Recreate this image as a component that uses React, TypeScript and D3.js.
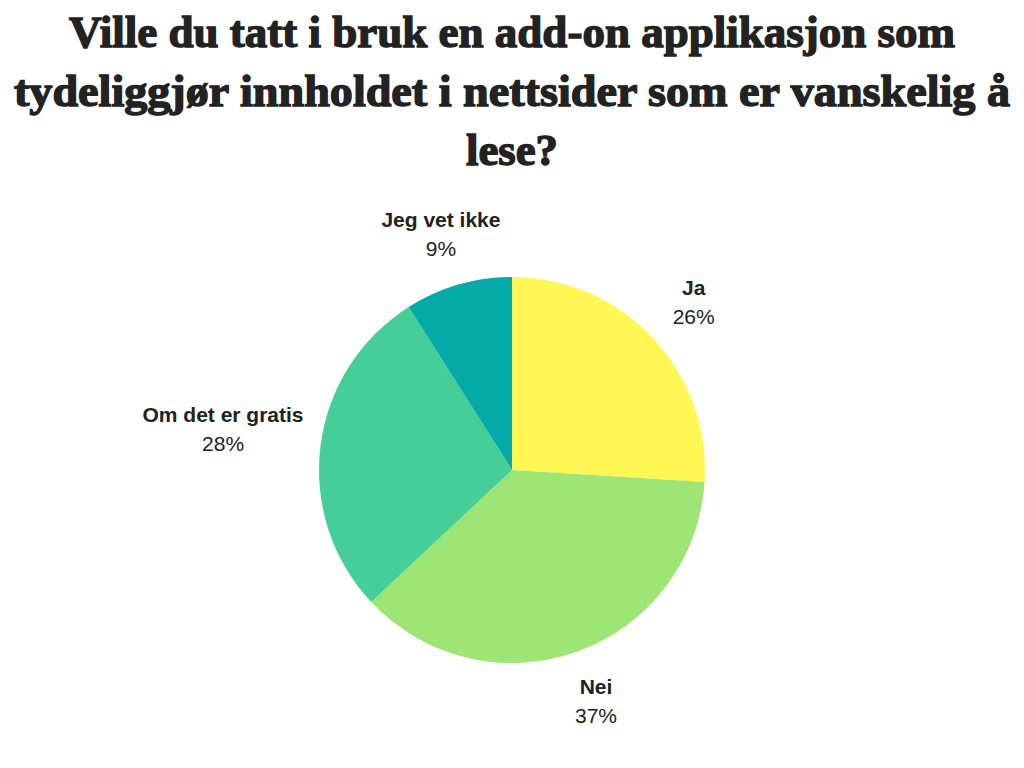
import React from "react";
import * as d3 from "d3";

const categories = ["Ja", "Nei", "Om det er gratis", "Jeg vet ikke"];
const values = [26, 37, 28, 9];
const colors = ["#FFF754", "#9DE676", "#46CE99", "#04AAA7"];
const titleLines = [
  "Ville du tatt i bruk en add-on applikasjon som",
  "tydeliggjør innholdet i nettsider som er vanskelig å",
  "lese?",
];
const titleWidths = [886, 996, 92];

const W = 1024;
const H = 768;
const cx = 512;
const cy = 470;
const R = 193;
const labelR = 245;

export default function App() {
  const pie = d3.pie<number>().sort(null).value((d) => d)(values);
  const arc = d3.arc<d3.PieArcDatum<number>>().innerRadius(0).outerRadius(R);

  return (
    <svg
      width={W}
      height={H}
      style={{ position: "absolute", left: 0, top: 0, background: "#fff" }}
    >
      <rect x={0} y={0} width={W} height={H} fill="#fff" />
      {titleLines.map((t, i) => (
        <text
          key={i}
          x={W / 2}
          y={47 + i * 59}
          textAnchor="middle"
          fontFamily="'Liberation Serif', 'DejaVu Serif', serif"
          fontWeight={900}
          fontSize={45}
          fill="#222"
          textLength={titleWidths[i]}
          lengthAdjust="spacingAndGlyphs"
          stroke="#222"
          strokeWidth={1.4}
        >
          {t}
        </text>
      ))}
      <g transform={`translate(${cx},${cy})`}>
        {pie.map((p, i) => (
          <path key={i} d={arc(p) || ""} fill={colors[i]} />
        ))}
        {pie.map((p, i) => {
          const a = (p.startAngle + p.endAngle) / 2;
          const s = Math.sin(a);
          const c = Math.cos(a);
          const halfW = categories[i].length * 5.5;
          const x = labelR * s + 0.53 * halfW * s * Math.abs(s);
          const y = -labelR * c - 10 * Math.max(0, -s) * Math.abs(s);
          return (
            <g key={"l" + i} fontFamily="'Liberation Sans', Arial, sans-serif" fontSize={21} fill="#222" textAnchor="middle">
              <text x={x} y={y - 7} fontWeight="bold">
                {categories[i]}
              </text>
              <text x={x} y={y + 22}>
                {values[i]}%
              </text>
            </g>
          );
        })}
      </g>
    </svg>
  );
}
